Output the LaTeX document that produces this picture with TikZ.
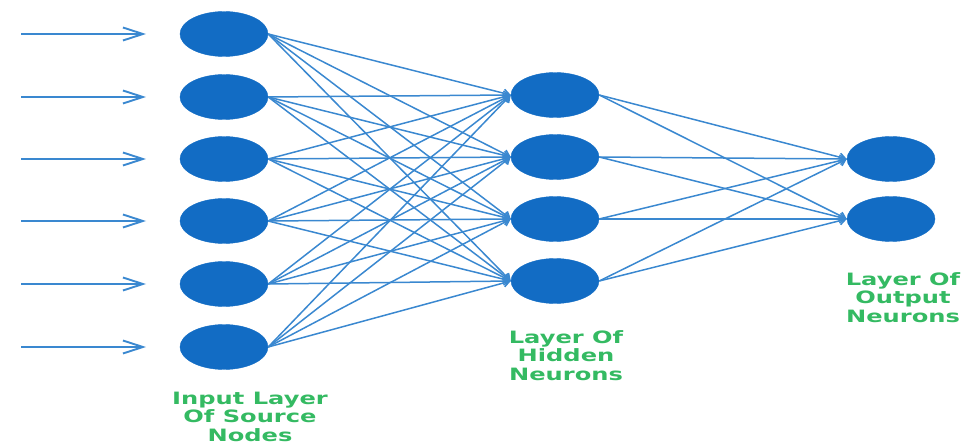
\documentclass[tikz,border=0pt]{standalone}
\usepackage{fontspec}
\setmainfont{DejaVu Sans}
\newfontfamily\labelfont{DejaVu Sans}[FakeStretch=1.42]
\usetikzlibrary{arrows.meta,shapes.geometric}
\definecolor{neuronblue}{RGB}{18,108,196}
\definecolor{linkblue}{RGB}{58,136,208}
\definecolor{labelgreen}{RGB}{52,186,98}
\tikzset{
  neuron/.style={ellipse, fill=neuronblue, draw=neuronblue, minimum width=88pt, minimum height=45pt, inner sep=0pt},
  link/.style={linkblue, line width=1.5pt, -{Straight Barb[length=6pt,width=8pt]}},
  feed/.style={linkblue, line width=1.9pt, -{Straight Barb[length=20pt,width=13pt]}},
  layerlabel/.style={labelgreen, font=\labelfont\bfseries\fontsize{17}{18.5}\selectfont, align=center, inner sep=0pt}
}
\begin{document}
\begin{tikzpicture}[x=1pt,y=-1pt]
  \useasboundingbox (0,0) rectangle (968,446);
  % input layer with incoming signals
  \foreach \i/\y in {1/34,2/97,3/159,4/221,5/284,6/347} {
    \node[neuron] (in\i) at (224,\y) {};
    \coordinate (src\i) at (21,\y);
    \coordinate (tip\i) at (146,\y);
    \draw[feed] (src\i) -- (tip\i);
  }
  % hidden layer
  \foreach \j/\y in {1/95,2/157,3/219,4/281} {
    \node[neuron] (hid\j) at (555,\y) {};
  }
  % output layer
  \foreach \k/\y in {1/159,2/219} {
    \node[neuron] (out\k) at (891,\y) {};
  }
  % fully connected links
  \foreach \i in {1,...,6} {
    \foreach \j in {1,...,4} {
      \draw[link] (in\i.east) -- (hid\j.west);
    }
  }
  \foreach \j in {1,...,4} {
    \foreach \k in {1,2} {
      \draw[link] (hid\j.east) -- (out\k.west);
    }
  }
  % layer captions (base anchor sits on the last line)
  \node[layerlabel, anchor=base] (lin) at (250,441) {Input Layer\\Of Source\\Nodes};
  \node[layerlabel, anchor=base] (lhid) at (566,380) {Layer Of\\Hidden\\Neurons};
  \node[layerlabel, anchor=base] (lout) at (903,322) {Layer Of\\Output\\Neurons};
\end{tikzpicture}
\end{document}
